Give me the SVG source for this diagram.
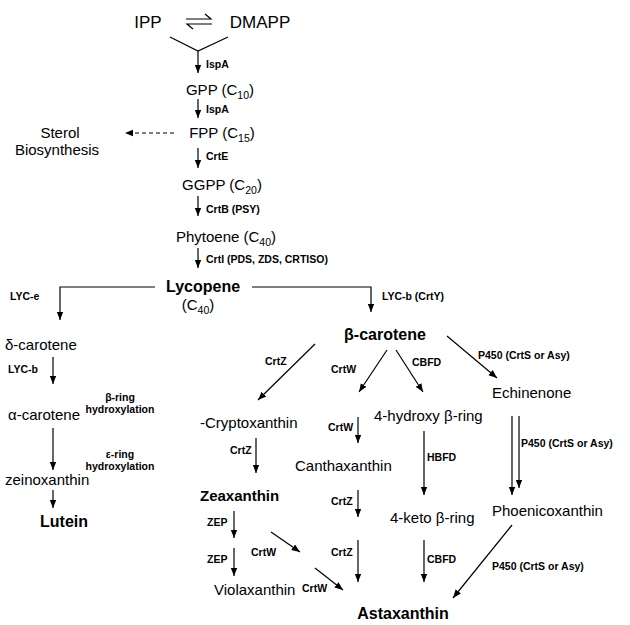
<svg xmlns="http://www.w3.org/2000/svg" width="630" height="625" viewBox="0 0 630 625">
<defs>
<marker id="ah" viewBox="0 0 10 10" refX="10" refY="5" markerWidth="7" markerHeight="7" orient="auto-start-reverse"><path d="M0,1 L10,5 L0,9 z" fill="#000"/></marker>
<style>
text{font-family:"Liberation Sans",Arial,sans-serif;fill:#000}
.n{font-size:15px}
.big{font-size:17px}
.b{font-size:16px;font-weight:bold}
.l{font-size:10.5px;font-weight:bold}
.s{font-size:10.5px}
line,polyline,path.c{stroke:#000;stroke-width:1.2;fill:none}
.a{marker-end:url(#ah)}
</style>
</defs>
<g id="connectors">
<path class="c" d="M186,19 L211,19 L205,14"/>
<path class="c" d="M212,24 L187,24 L193,29"/>
<polyline points="170,37 198,51 228,37"/>
<line class="a" x1="198" y1="51" x2="198" y2="73"/>
<line class="a" x1="198" y1="99" x2="198" y2="118"/>
<line class="a" x1="174" y1="133" x2="125" y2="133" stroke-dasharray="4,3"/>
<line class="a" x1="198" y1="148" x2="198" y2="168"/>
<line class="a" x1="198" y1="196" x2="198" y2="216"/>
<line class="a" x1="198" y1="248" x2="198" y2="268"/>
<polyline class="a" points="155,287 60,287 60,320"/>
<polyline class="a" points="252,287 371,287 371,312"/>
<line class="a" x1="53" y1="357" x2="53" y2="384"/>
<line class="a" x1="53" y1="428" x2="53" y2="470"/>
<line class="a" x1="53" y1="490" x2="53" y2="508"/>
<line class="a" x1="315" y1="344" x2="258" y2="400"/>
<line class="a" x1="387" y1="350" x2="359" y2="392"/>
<line class="a" x1="396" y1="350" x2="423" y2="392"/>
<line class="a" x1="447" y1="336" x2="497" y2="378"/>
<line class="a" x1="358" y1="417" x2="358" y2="443"/>
<line class="a" x1="256" y1="438" x2="256" y2="473"/>
<line class="a" x1="424" y1="431" x2="424" y2="495"/>
<line class="a" x1="512" y1="416" x2="512" y2="495"/>
<line class="a" x1="519" y1="416" x2="519" y2="488"/>
<line class="a" x1="358" y1="490" x2="358" y2="517"/>
<line class="a" x1="234" y1="511" x2="234" y2="538"/>
<line class="a" x1="234" y1="548" x2="234" y2="576"/>
<line class="a" x1="271" y1="532" x2="300" y2="552"/>
<line class="a" x1="358" y1="540" x2="358" y2="582"/>
<line class="a" x1="424" y1="540" x2="424" y2="582"/>
<line class="a" x1="315" y1="568" x2="343" y2="590"/>
<line class="a" x1="512" y1="525" x2="453" y2="598"/>
</g>
<g id="IPP"><text class="big" x="148" y="28" text-anchor="middle">IPP</text></g>
<g id="DMAPP"><text class="big" x="260" y="28" text-anchor="middle">DMAPP</text></g>
<g id="GPP"><text class="n" x="220" y="95" text-anchor="middle">GPP (C<tspan class="s" dy="4">10</tspan><tspan dy="-4">)</tspan></text></g>
<g id="FPP"><text class="n" x="222" y="138" text-anchor="middle">FPP (C<tspan class="s" dy="4">15</tspan><tspan dy="-4">)</tspan></text></g>
<g id="Sterol"><text class="n" x="60" y="138" text-anchor="middle">Sterol</text><text class="n" x="57" y="155" text-anchor="middle">Biosynthesis</text></g>
<g id="GGPP"><text class="n" x="222" y="190" text-anchor="middle">GGPP (C<tspan class="s" dy="4">20</tspan><tspan dy="-4">)</tspan></text></g>
<g id="Phytoene"><text class="n" x="226" y="242" text-anchor="middle">Phytoene (C<tspan class="s" dy="4">40</tspan><tspan dy="-4">)</tspan></text></g>
<g id="Lycopene"><text class="b" x="203" y="292" text-anchor="middle">Lycopene</text><text class="n" x="198" y="310" text-anchor="middle">(C<tspan class="s" dy="4">40</tspan><tspan dy="-4">)</tspan></text></g>
<g id="delta"><text class="n" x="5" y="350">δ-carotene</text></g>
<g id="alpha"><text class="n" x="8" y="420">α-carotene</text></g>
<g id="zein"><text class="n" x="5" y="485">zeinoxanthin</text></g>
<g id="Lutein"><text class="b" x="40" y="527">Lutein</text></g>
<g id="beta"><text class="b" x="385" y="340" text-anchor="middle">β-carotene</text></g>
<g id="Echinenone"><text class="n" x="492" y="398">Echinenone</text></g>
<g id="Crypto"><text class="n" x="200" y="428">-Cryptoxanthin</text></g>
<g id="hydroxy"><text class="n" x="374" y="421">4-hydroxy β-ring</text></g>
<g id="Cantha"><text class="n" x="295" y="471">Canthaxanthin</text></g>
<g id="Zea"><text class="b" x="200" y="501" style="font-size:15px">Zeaxanthin</text></g>
<g id="keto"><text class="n" x="390" y="523">4-keto β-ring</text></g>
<g id="Phoeni"><text class="n" x="492" y="516">Phoenicoxanthin</text></g>
<g id="Viola"><text class="n" x="214" y="595">Violaxanthin</text></g>
<g id="Asta"><text class="b" x="403" y="619" text-anchor="middle">Astaxanthin</text></g>
<g id="labels">
<text class="l" x="206" y="68">IspA</text>
<text class="l" x="206" y="113">IspA</text>
<text class="l" x="206" y="160">CrtE</text>
<text class="l" x="206" y="213">CrtB (PSY)</text>
<text class="l" x="206" y="263">CrtI (PDS, ZDS, CRTISO)</text>
<text class="l" x="10" y="300">LYC-e</text>
<text class="l" x="382" y="300">LYC-b (CrtY)</text>
<text class="l" x="8" y="373">LYC-b</text>
<text class="l" x="120" y="401" text-anchor="middle">β-ring</text>
<text class="l" x="120" y="413" text-anchor="middle">hydroxylation</text>
<text class="l" x="120" y="458" text-anchor="middle">ε-ring</text>
<text class="l" x="120" y="470" text-anchor="middle">hydroxylation</text>
<text class="l" x="265" y="365">CrtZ</text>
<text class="l" x="331" y="373">CrtW</text>
<text class="l" x="412" y="366">CBFD</text>
<text class="l" x="478" y="359">P450 (CrtS or Asy)</text>
<text class="l" x="328" y="431">CrtW</text>
<text class="l" x="230" y="454">CrtZ</text>
<text class="l" x="427" y="461">HBFD</text>
<text class="l" x="521" y="447">P450 (CrtS or Asy)</text>
<text class="l" x="331" y="505">CrtZ</text>
<text class="l" x="207" y="526">ZEP</text>
<text class="l" x="207" y="563">ZEP</text>
<text class="l" x="251" y="556">CrtW</text>
<text class="l" x="331" y="556">CrtZ</text>
<text class="l" x="427" y="563">CBFD</text>
<text class="l" x="302" y="592">CrtW</text>
<text class="l" x="492" y="570">P450 (CrtS or Asy)</text>
</g>
</svg>
